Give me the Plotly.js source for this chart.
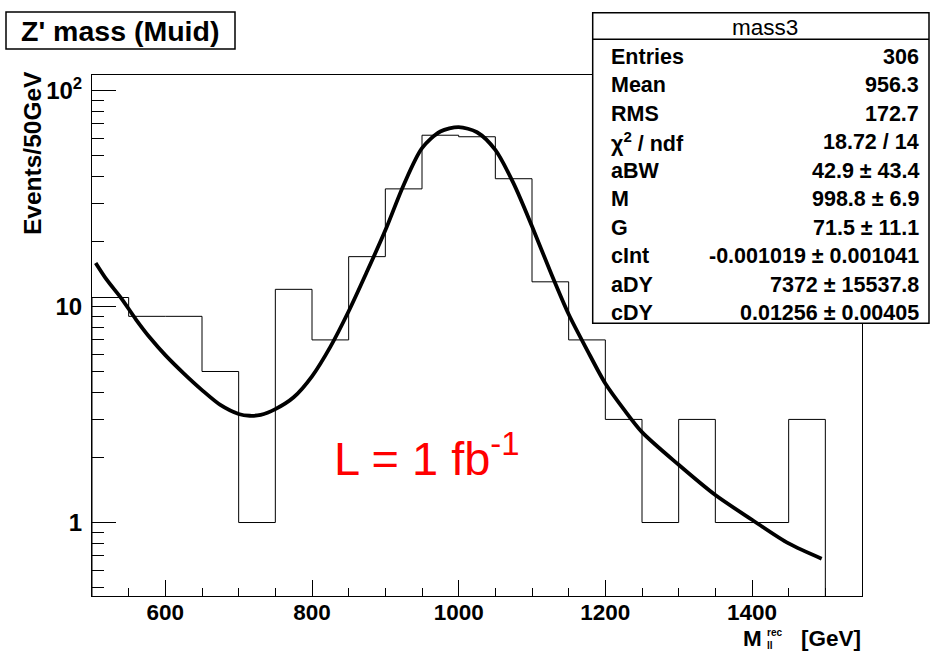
<!DOCTYPE html>
<html>
<head>
<meta charset="utf-8">
<script src="https://cdn.plot.ly/plotly-3.0.1.min.js"></script>
<style>html,body{margin:0;padding:0;background:#fff;}#chart{width:937px;height:652px;}</style>
</head>
<body>
<div id="chart"></div>
<script>
// ---- data ----
const massBins = [525, 575, 625, 675, 725, 775, 825, 875, 925, 975, 1025, 1075, 1125, 1175, 1225, 1275, 1325, 1375, 1425, 1475];
const counts   = [11, 9, 9, 5, 1, 12, 7, 17, 35, 62, 61, 39, 13, 7, 3, 1, 3, 1, 1, 3];

const fitMass  = [505, 520, 540, 560, 580, 600, 625, 650, 675, 700, 715, 730, 750, 775, 800, 825, 850, 875, 900, 925, 950, 975, 1000, 1025, 1050, 1075, 1100, 1125, 1150, 1175, 1200, 1225, 1250, 1300, 1350, 1400, 1450, 1495];
const fitValue = [15.9, 13.3, 10.9, 8.7, 7.1, 5.95, 4.9, 4.1, 3.5, 3.18, 3.12, 3.15, 3.35, 3.8, 4.75, 6.5, 9.5, 14.5, 22.5, 36.5, 54, 64.5, 67.6, 64, 53, 37, 23.5, 14.5, 9.2, 6.3, 4.4, 3.35, 2.62, 1.85, 1.34, 1.03, 0.80, 0.68];

const xTickVals = [600, 800, 1000, 1200, 1400];
const yTickVals = [1, 10, 100];
const yTickText = ['1', '10', '10<sup>2</sup>'];
const yMinorVals = [0.5, 0.6, 0.7, 0.8, 0.9, 2, 3, 4, 5, 6, 7, 8, 9, 20, 30, 40, 50, 60, 70, 80, 90];

const statTitle  = 'mass3';
const statLabels = ['Entries', 'Mean', 'RMS', 'χ<sup>2</sup> / ndf', 'aBW', 'M', 'G', 'cInt', 'aDY', 'cDY'];
const statValues = ['306', '956.3', '172.7', '18.72 / 14', '42.9 ± 43.4', '998.8 ± 6.9', '71.5 ± 11.1', '-0.001019 ± 0.001041', '7372 ± 15537.8', '0.01256 ± 0.00405'];

const histTitle = "Z' mass (Muid)";
const yTitle = 'Events/50GeV';
const xTitleMain = 'M';
const xTitleStack = 'rec<br>ll';
const xTitleUnit = '[GeV]';
const lumiText = 'L = 1 fb<sup>-1</sup>';

// ---- geometry helpers ----
const W = 937, H = 652;
const M = {l: 92, r: 75, t: 75, b: 56};
const PW = W - M.l - M.r, PH = H - M.t - M.b;
const px = v => (v - M.l) / PW;
const py = v => (H - M.b - v) / PH;

// histogram outline (step) built from bins
const bw = massBins[1] - massBins[0];
const floorVal = 0.05;
const hx = [massBins[0] - bw / 2], hy = [floorVal];
massBins.forEach((c, i) => { hx.push(c - bw / 2); hy.push(counts[i]); });
hx.push(massBins[massBins.length - 1] + bw / 2); hy.push(counts[counts.length - 1]);
hx.push(massBins[massBins.length - 1] + bw / 2); hy.push(floorVal);

const FONT = 'Liberation Sans, Arial, sans-serif';

const traces = [
  {x: hx, y: hy, type: 'scatter', mode: 'lines', line: {shape: 'hv', color: '#000', width: 1}, hoverinfo: 'skip', showlegend: false},
  {x: fitMass, y: fitValue, type: 'scatter', mode: 'lines', line: {shape: 'spline', smoothing: 0.8, color: '#000', width: 3.8}, hoverinfo: 'skip', showlegend: false}
];

const annotations = [];
const shapes = [];

// title box
shapes.push({type: 'rect', xref: 'paper', yref: 'paper', x0: px(6), x1: px(235), y0: py(49), y1: py(12), line: {color: '#000', width: 1.5}, fillcolor: '#fff', layer: 'above'});
annotations.push({xref: 'paper', yref: 'paper', x: px(120), y: py(31), xanchor: 'center', yanchor: 'middle', showarrow: false, text: histTitle, font: {family: FONT, size: 28.5, color: '#000', weight: 'bold'}});

// stats box
const sb = {x0: 592.7, x1: 929, y0: 12.7, y1: 323.3, sep: 39.3};
shapes.push({type: 'rect', xref: 'paper', yref: 'paper', x0: px(sb.x0), x1: px(sb.x1), y0: py(sb.y1), y1: py(sb.y0), line: {color: '#000', width: 1.5}, fillcolor: '#fff', layer: 'above'});
shapes.push({type: 'line', xref: 'paper', yref: 'paper', x0: px(sb.x0), x1: px(sb.x1), y0: py(sb.sep), y1: py(sb.sep), line: {color: '#000', width: 1.5}, layer: 'above'});
annotations.push({xref: 'paper', yref: 'paper', x: px(765), y: py(27), xanchor: 'center', yanchor: 'middle', showarrow: false, text: statTitle, font: {family: FONT, size: 22.5, color: '#000'}});
statLabels.forEach((lab, i) => {
  const yc = 56.7 + i * 28.48;
  annotations.push({xref: 'paper', yref: 'paper', x: px(609), y: py(yc), xanchor: 'left', yanchor: 'middle', showarrow: false, text: lab, font: {family: FONT, size: 21.5, color: '#000', weight: 'bold'}});
  annotations.push({xref: 'paper', yref: 'paper', x: px(921), y: py(yc), xanchor: 'right', yanchor: 'middle', showarrow: false, text: statValues[i], font: {family: FONT, size: 21.5, color: '#000', weight: 'bold'}});
});

// y title
annotations.push({xref: 'paper', yref: 'paper', x: px(33), y: py(69), xanchor: 'center', yanchor: 'top', textangle: -90, showarrow: false, text: yTitle, font: {family: FONT, size: 24.5, color: '#000', weight: 'bold'}});

// x title pieces
annotations.push({xref: 'paper', yref: 'paper', x: px(742), y: py(638), xanchor: 'left', yanchor: 'middle', showarrow: false, borderpad: 0, text: xTitleMain, font: {family: FONT, size: 22.5, color: '#000', weight: 'bold'}});
annotations.push({xref: 'paper', yref: 'paper', x: px(766), y: py(639), xanchor: 'left', yanchor: 'middle', align: 'left', showarrow: false, borderpad: 0, text: xTitleStack, font: {family: FONT, size: 10, color: '#000', weight: 'bold'}});
annotations.push({xref: 'paper', yref: 'paper', x: px(862), y: py(638), xanchor: 'right', yanchor: 'middle', showarrow: false, borderpad: 0, text: xTitleUnit, font: {family: FONT, size: 22.5, color: '#000', weight: 'bold'}});

// luminosity label
annotations.push({xref: 'paper', yref: 'paper', x: px(332), y: py(455), xanchor: 'left', yanchor: 'middle', showarrow: false, text: lumiText, font: {family: FONT, size: 47, color: '#ff0000'}});

const layout = {
  width: W, height: H, autosize: false,
  margin: M,
  paper_bgcolor: '#fff', plot_bgcolor: '#fff',
  showlegend: false,
  font: {family: FONT, color: '#000'},
  xaxis: {
    range: [500, 1550], tickmode: 'array', tickvals: xTickVals,
    ticks: 'inside', ticklen: 16, tickwidth: 1, tickcolor: '#000',
    minor: {tick0: 500, dtick: 50, ticks: 'inside', ticklen: 8, tickwidth: 1, tickcolor: '#000', showgrid: false},
    showline: true, mirror: true, linecolor: '#000', linewidth: 1,
    showgrid: false, zeroline: false, ticklabelstandoff: -4,
    tickfont: {family: FONT, size: 22.5, color: '#000', weight: 'bold'}
  },
  yaxis: {
    type: 'log', range: [Math.log10(0.457), Math.log10(117.8)],
    tickmode: 'array', tickvals: yTickVals, ticktext: yTickText,
    ticks: 'inside', ticklen: 24, tickwidth: 1, tickcolor: '#000',
    minor: {tickmode: 'array', tickvals: yMinorVals, ticks: 'inside', ticklen: 12, tickwidth: 1, tickcolor: '#000', showgrid: false},
    showline: true, mirror: true, linecolor: '#000', linewidth: 1,
    showgrid: false, zeroline: false, ticklabelstandoff: 4,
    tickfont: {family: FONT, size: 24, color: '#000', weight: 'bold'}
  },
  shapes: shapes,
  annotations: annotations
};

Plotly.newPlot('chart', traces, layout, {displayModeBar: false, staticPlot: true});
</script>
</body>
</html>
